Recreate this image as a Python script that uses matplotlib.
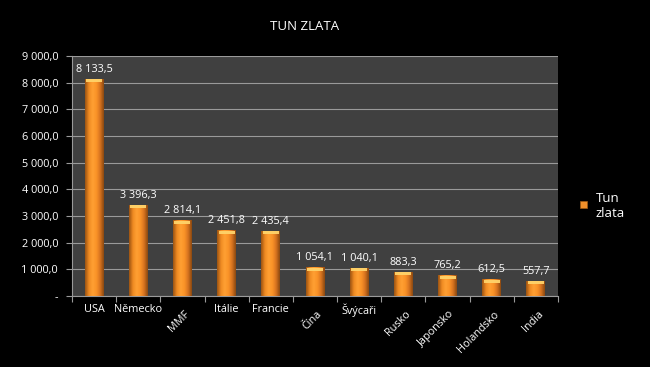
import matplotlib
matplotlib.use("Agg")
import matplotlib.pyplot as plt
import numpy as np
from matplotlib.colors import LinearSegmentedColormap
from matplotlib.patches import Rectangle

categories = ["USA", "Německo", "MMF", "Itálie", "Francie", "Čína", "Švýcaři",
              "Rusko", "Japonsko", "Holandsko", "India"]
values = [8133.5, 3396.3, 2814.1, 2451.8, 2435.4, 1054.1, 1040.1, 883.3, 765.2, 612.5, 557.7]
rotated = [False, False, True, False, False, True, False, True, True, True, True]
yticks = [0, 1000, 2000, 3000, 4000, 5000, 6000, 7000, 8000, 9000]
series_name = "Tun\nzlata"
title = "TUN ZLATA"

def fmt(v):
    return f"{v:,.1f}".replace(",", " ").replace(".", ",")

plt.rcParams['font.family'] = ['Open Sans', 'DejaVu Sans']

fig = plt.figure(figsize=(6.5, 3.67), dpi=100, facecolor="black")
ax = fig.add_axes([72/650, 1-296/367, (558-72)/650, (296-56)/367])
ax.set_facecolor("#404040")

n = len(categories)
x = np.arange(n)
w = 0.43
ax.set_xlim(-0.5, n-0.5)
ax.set_ylim(0, 9000)

cmap = LinearSegmentedColormap.from_list(
    "cyl", ["#9a5212", "#ef8a22", "#ffa033", "#fb9428", "#d87420", "#8a4810"])
grad = np.linspace(0, 1, 64).reshape(1, -1)

bars = ax.bar(x, values, width=w, color="none", edgecolor="none", zorder=3)
for b in bars:
    x0 = b.get_x(); h = b.get_height(); bw = b.get_width()
    ax.imshow(grad, cmap=cmap, extent=(x0, x0+bw, 0, h), aspect='auto', zorder=3,
              interpolation='bicubic')
    cap = 110
    ax.add_patch(Rectangle((x0+bw*0.08, h-cap), bw*0.84, cap, facecolor="#ffd36a",
                           edgecolor="none", zorder=4, alpha=0.95))
    ax.text(x0+bw/2, h+170, fmt(h), ha='center', va='bottom', color='white',
            fontsize=7.8, zorder=5)

ax.set_yticks(yticks)
ax.set_yticklabels([("-" if t == 0 else fmt(t)) for t in yticks], color='white', fontsize=7.8)
ax.grid(axis='y', color='#9a9a9a', linewidth=0.8, zorder=1)
ax.set_axisbelow(True)

ax.set_xticks(np.arange(n+1)-0.5)
ax.set_xticklabels([])
ax.tick_params(axis='x', length=4, color='#9a9a9a', direction='out')
ax.tick_params(axis='y', length=4, color='#9a9a9a', direction='out', pad=6)
for s in ['top', 'right']:
    ax.spines[s].set_visible(False)
ax.spines['left'].set_color('#9a9a9a')
ax.spines['bottom'].set_color('#9a9a9a')

for i, (c, r) in enumerate(zip(categories, rotated)):
    if r:
        ax.annotate(c, xy=(i, 0), xycoords='data', xytext=(4, -12), textcoords='offset points',
                    rotation=45, ha='right', va='center', rotation_mode='anchor',
                    color='white', fontsize=7.8, annotation_clip=False)
    else:
        ax.annotate(c, xy=(i, 0), xycoords='data', xytext=(0, -10), textcoords='offset points',
                    ha='center', va='center', color='white', fontsize=7.8, annotation_clip=False)

fig.text(305/650, 1-27/367, title, ha='center', va='center', color='white', fontsize=9.5)

# legend
fig.patches.append(Rectangle((580/650, 1-208/367), 7/650, 7/367, transform=fig.transFigure,
                             facecolor="#f0902a", edgecolor="#a05a10", linewidth=0.5))
fig.text(596/650, 1-206/367, series_name, ha='left', va='center', color='white',
         fontsize=9.5, linespacing=1.2)

fig.savefig("out.png", dpi=100, facecolor="black")
